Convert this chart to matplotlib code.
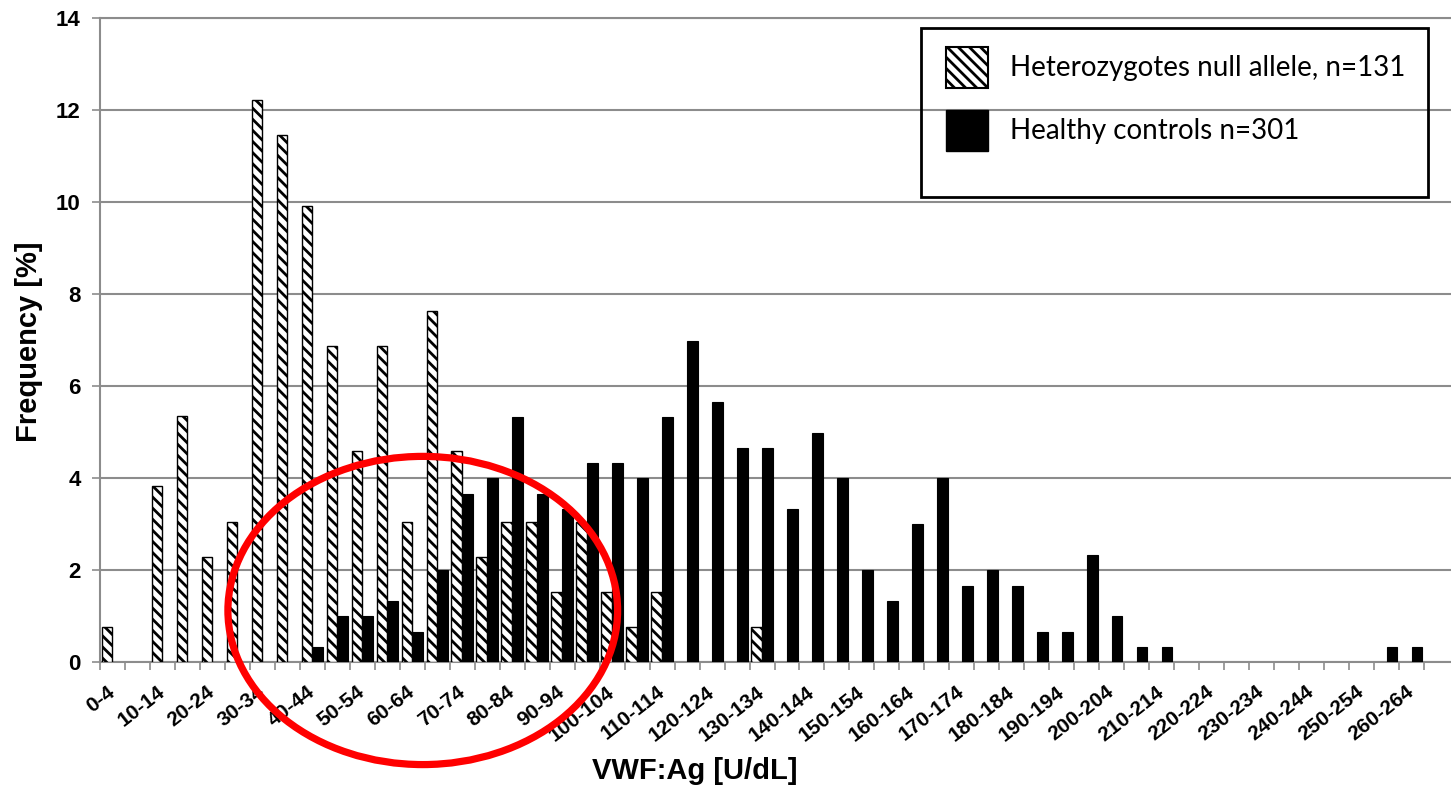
import numpy as np
import matplotlib
matplotlib.use("Agg")
import matplotlib.pyplot as plt
from matplotlib.patches import Ellipse, Rectangle, Patch

# ─────────────────────────────────────────────
# DATA  (frequency in % per 5 U/dL bin)
# ─────────────────────────────────────────────
bins = [f"{lo}-{lo + 4}" for lo in range(0, 265, 5)]   # 0-4 ... 260-264

het_null = [0.76, 0, 3.82, 5.34, 2.29, 3.05, 12.21, 11.45, 9.92, 6.87,
            4.58, 6.87, 3.05, 7.63, 4.58, 2.29, 3.05, 3.05, 1.53, 3.05,
            1.53, 0.76, 1.53, 0, 0, 0, 0.76, 0, 0, 0,
            0, 0, 0, 0, 0, 0, 0, 0, 0, 0,
            0, 0, 0, 0, 0, 0, 0, 0, 0, 0,
            0, 0, 0]

healthy = [0, 0, 0, 0, 0, 0, 0, 0, 0.33, 1.00,
           1.00, 1.33, 0.66, 1.99, 3.65, 3.99, 5.32, 3.65, 3.32, 4.32,
           4.32, 3.99, 5.32, 6.98, 5.65, 4.65, 4.65, 3.32, 4.98, 3.99,
           1.99, 1.33, 2.99, 3.99, 1.66, 1.99, 1.66, 0.66, 0.66, 2.33,
           1.00, 0.33, 0.33, 0, 0, 0, 0, 0, 0, 0,
           0, 0.33, 0.33]

legend_labels = ["Heterozygotes null allele, n=131", "Healthy controls n=301"]
y_ticks = [0, 2, 4, 6, 8, 10, 12, 14]

# ─────────────────────────────────────────────
# STYLE
# ─────────────────────────────────────────────
W, H = 1451, 789
GRID = "#8c8c8c"
BAR_W = 0.43
HATCH = "\\\\\\"
plt.rcParams["hatch.linewidth"] = 2.0
plt.rcParams["font.family"] = ["Liberation Sans", "DejaVu Sans"]
plt.rcParams["xtick.labelsize"] = 15
plt.rcParams["ytick.labelsize"] = 16

fig = plt.figure(figsize=(W / 100, H / 100), dpi=100)
ax = fig.add_axes([100 / W, 1 - 662 / H, 1351 / W, 644 / H])

x = np.arange(len(bins))
het = np.array(het_null)
hc = np.array(healthy)

m = het > 0
ax.bar(x[m] - BAR_W / 2, het[m], width=BAR_W, color="white",
       edgecolor="black", hatch=HATCH, linewidth=1.0, zorder=3)
m = hc > 0
ax.bar(x[m] + BAR_W / 2, hc[m], width=BAR_W, color="black",
       edgecolor="black", linewidth=0.8, zorder=3)

# axes & grid
ax.set_xlim(-0.5, 53.58)
ax.set_ylim(0, 14)
ax.yaxis.grid(True, color=GRID, linewidth=1.5, zorder=0)
ax.set_axisbelow(True)
ax.tick_params(axis="y", length=6, width=1.2, color=GRID, pad=8)

for s in ["top", "right"]:
    ax.spines[s].set_visible(False)
for s in ["left", "bottom"]:
    ax.spines[s].set_color(GRID)
    ax.spines[s].set_linewidth(1.5)
ax.axhline(14, color=GRID, linewidth=1.5, clip_on=False, zorder=0)

# category boundary ticks (minor) + labels on every other bin
ax.set_xticks(np.arange(-0.5, len(bins), 1.0), minor=True)
ax.tick_params(axis="x", which="minor", length=6, width=1.2, color=GRID)
ax.tick_params(axis="x", which="major", length=0, pad=20)
ax.set_xticks(x[::2])
ax.set_xticklabels(bins[::2], rotation=38, ha="right", va="center",
                   rotation_mode="anchor", fontweight="bold")

ax.set_yticks(y_ticks)
ax.set_yticklabels([str(v) for v in y_ticks], fontweight="bold")

ax.set_ylabel("Frequency [%]", fontsize=21, fontweight="bold")
ax.yaxis.set_label_coords(-0.042, 0.498)
ax.set_xlabel("VWF:Ag [U/dL]", fontsize=21, fontweight="bold")
ax.xaxis.set_label_coords(0.4404, -0.1475)

# legend with its own frame
handles = [Patch(facecolor="white", edgecolor="black", hatch=HATCH, linewidth=1.5),
           Patch(facecolor="black", edgecolor="black")]
leg = fig.legend(handles, legend_labels, loc="upper left",
                 bbox_to_anchor=(946 / W, 1 - 47 / H), frameon=False,
                 prop={"family": ["Lato", "DejaVu Sans"], "size": 20},
                 handlelength=1.51, handleheight=1.89, handletextpad=0.8,
                 labelspacing=0.79, borderpad=0, borderaxespad=0)
fig.patches.append(Rectangle((921 / W, 1 - 197 / H), 507 / W, 169 / H,
                             transform=fig.transFigure, fill=False,
                             edgecolor="black", linewidth=2, zorder=5))

# red highlight ellipse
ax.add_patch(Ellipse((12.42, 1.12), 15.6, 6.7, fill=False, edgecolor="#ff0000",
                     linewidth=5.2, clip_on=False, zorder=6))

fig.savefig("out.png", dpi=100)
